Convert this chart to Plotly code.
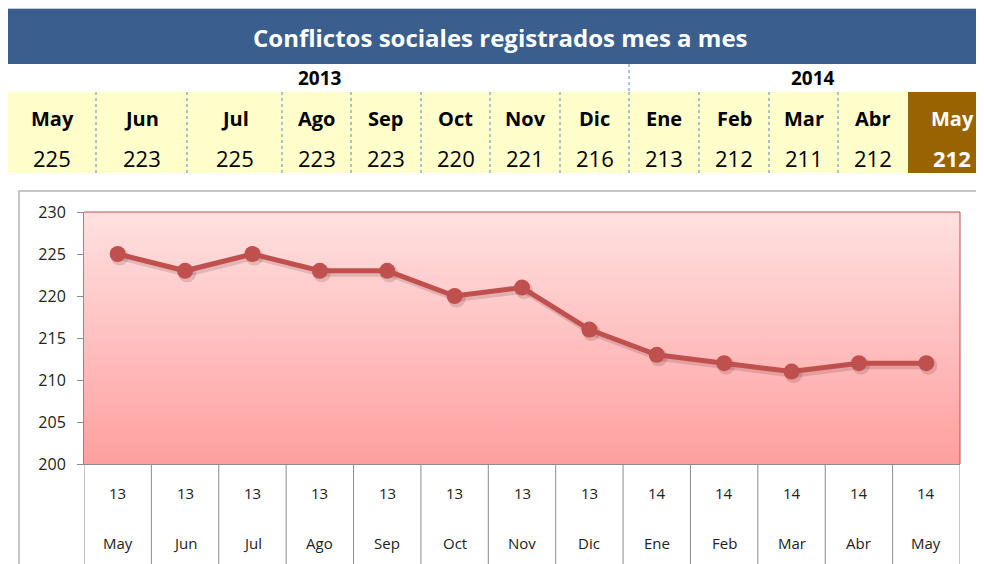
import plotly.graph_objects as go

# ---- data ----
title_text = "Conflictos sociales registrados mes a mes"
years = ["2013", "2014"]
months = ["May", "Jun", "Jul", "Ago", "Sep", "Oct", "Nov", "Dic", "Ene", "Feb", "Mar", "Abr", "May"]
year_short = ["13", "13", "13", "13", "13", "13", "13", "13", "14", "14", "14", "14", "14"]
conflicts = [225, 223, 225, 223, 223, 220, 221, 216, 213, 212, 211, 212, 212]
y_ticks = [200, 205, 210, 215, 220, 225, 230]

# ---- layout helpers: page pixel -> paper (page body has an 8px margin) ----
W, H = 984, 564
OFF = 8
def px(x):
    return (x - OFF) / W
def py(y):
    return 1 - (y - OFF) / H

PLOT_L, PLOT_R, PLOT_T, PLOT_B = 84, 960, 212, 464
col_edges = [8, 96, 187, 282, 351, 421, 490, 560, 629, 699, 769, 838, 908, 996]
year_centers = [320, 813]
year_split = 629

FONT = "Open Sans"
RED = "#C0504D"
BLUE = "#3A5F8E"
YELLOW = "#FFFFCC"
BROWN = "#996300"
SEP = "#5B86C0"

n = len(months)
xs = list(range(n))

fig = go.Figure()

# gradient plot background
fig.add_trace(go.Scatter(
    x=[-0.5, n - 0.5, n - 0.5, -0.5, -0.5],
    y=[y_ticks[0], y_ticks[0], y_ticks[-1], y_ticks[-1], y_ticks[0]],
    mode="lines", line=dict(width=0), fill="toself",
    fillgradient=dict(type="vertical", colorscale=[[0, "#FF9F9F"], [1, "#FFE1E1"]]),
    hoverinfo="skip", showlegend=False,
))

# soft shadow of the line
fig.add_trace(go.Scatter(
    x=[v + 0.03 for v in xs], y=[v - 0.3 for v in conflicts],
    mode="lines+markers",
    line=dict(color="rgba(80,30,30,0.16)", width=7),
    marker=dict(size=18, color="rgba(80,30,30,0.16)"),
    hoverinfo="skip", showlegend=False,
))

# main series
fig.add_trace(go.Scatter(
    x=xs, y=conflicts, mode="lines+markers",
    line=dict(color=RED, width=5),
    marker=dict(size=16, color=RED),
    showlegend=False,
))

shapes = []
annotations = []

def label(text, x, y, size, color="black", xref="paper"):
    annotations.append(dict(text=text, xref=xref, yref="paper", x=x, y=y,
                            xanchor="center", yanchor="middle", showarrow=False,
                            font=dict(family=FONT, size=size, color=color)))

# header band
shapes.append(dict(type="line", xref="paper", yref="paper", x0=px(8), x1=1, y0=py(8.5), y1=py(8.5),
                   line=dict(color="#C8CED8", width=1)))
shapes.append(dict(type="rect", xref="paper", yref="paper", x0=px(8), x1=1, y0=py(64), y1=py(9),
                   fillcolor=BLUE, line=dict(width=0), layer="below"))
label(f"<b>{title_text}</b>", px(500), py(37), 24, "white")

# year row
for yr, cx in zip(years, year_centers):
    label(f"<b>{yr}</b>", px(cx), py(78), 19)
shapes.append(dict(type="line", xref="paper", yref="paper", x0=px(year_split), x1=px(year_split),
                   y0=py(64), y1=py(92), line=dict(color=SEP, width=1, dash="dot")))

# month table
for i in range(n):
    x0, x1 = col_edges[i], col_edges[i + 1]
    last = i == n - 1
    shapes.append(dict(type="rect", xref="paper", yref="paper", x0=px(x0), x1=px(x1), y0=py(173), y1=py(92),
                       fillcolor=BROWN if last else YELLOW, line=dict(width=0), layer="below"))
    col = "white" if last else "black"
    cx = (x0 + x1) / 2
    label(f"<b>{months[i]}</b>", px(cx), py(119), 20, col)
    label(f"<b>{conflicts[i]}</b>" if last else str(conflicts[i]), px(cx), py(158), 22, col)
for e in col_edges[1:-2]:
    shapes.append(dict(type="line", xref="paper", yref="paper", x0=px(e), x1=px(e), y0=py(92), y1=py(173),
                       line=dict(color=SEP, width=1, dash="dot")))

# chart frame
shapes.append(dict(type="rect", xref="paper", yref="paper", x0=px(19), x1=px(981), y0=py(575), y1=py(191),
                   line=dict(color="#B4B4B4", width=1.5), layer="below"))

# plot border (top/right red)
shapes.append(dict(type="line", xref="paper", yref="paper", x0=px(PLOT_L), x1=px(PLOT_R), y0=py(PLOT_T), y1=py(PLOT_T),
                   line=dict(color=RED, width=1)))
shapes.append(dict(type="line", xref="paper", yref="paper", x0=px(PLOT_R), x1=px(PLOT_R), y0=py(PLOT_T), y1=py(PLOT_B),
                   line=dict(color=RED, width=1)))

# category boundary lines below the axis and two-row category labels
for i in range(n + 1):
    shapes.append(dict(type="line", xref="x", yref="paper", x0=i - 0.5, x1=i - 0.5, y0=py(PLOT_B), y1=py(580),
                       line=dict(color="#8C8C8C", width=1)))
for i in range(n):
    label(year_short[i], xs[i], py(493), 15, "#222", xref="x")
    label(months[i], xs[i], py(543), 15, "#222", xref="x")

fig.update_layout(
    width=W, height=H,
    margin=dict(l=0, r=0, t=0, b=0),
    paper_bgcolor="white", plot_bgcolor="white",
    shapes=shapes, annotations=annotations,
    xaxis=dict(domain=[px(PLOT_L), px(PLOT_R)], range=[-0.5, n - 0.5], automargin=False,
               tickmode="array", tickvals=xs, showticklabels=False,
               showgrid=False, zeroline=False, showline=True, linecolor="#8C8C8C", linewidth=1,
               ticks="", fixedrange=True),
    yaxis=dict(domain=[py(PLOT_B), py(PLOT_T)], range=[y_ticks[0], y_ticks[-1]], automargin=False,
               tickmode="array", tickvals=y_ticks,
               showgrid=False, zeroline=False, showline=True, linecolor="#8C8C8C", linewidth=1,
               ticks="outside", ticklen=6, tickcolor="#8C8C8C", ticklabelstandoff=8,
               tickfont=dict(family=FONT, size=16, color="#222"), fixedrange=True),
)

fig.write_html("out.html")
